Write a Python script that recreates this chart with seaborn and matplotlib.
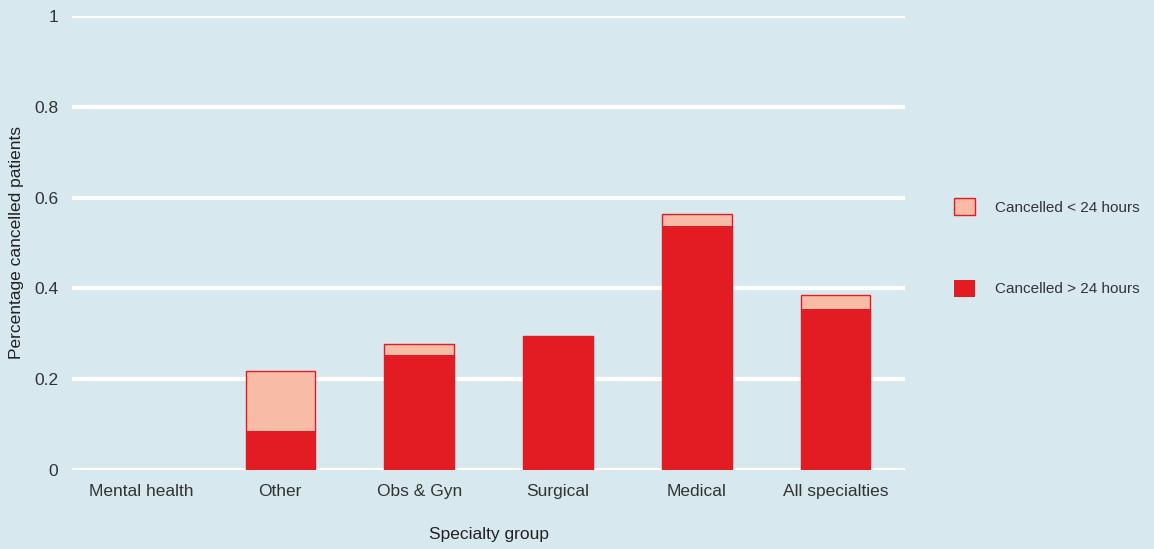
import matplotlib.pyplot as plt
import pandas as pd
import seaborn as sns

# specialty groups and cancellation shares
groups = ['Mental health', 'Other', 'Obs & Gyn', 'Surgical', 'Medical', 'All specialties']
over_24 = [0.0, 0.085, 0.253, 0.295, 0.537, 0.355]
under_24 = [0.0, 0.133, 0.025, 0.0, 0.027, 0.030]

bg = '#d8e8ef'
red = '#e31b23'
pink = '#f7bba6'

df = pd.DataFrame({'group': groups, 'over': over_24, 'under': under_24})
df['total'] = df['over'] + df['under']

sns.set_style('white')
plt.rcParams['font.family'] = ['Liberation Sans', 'DejaVu Sans']

fig = plt.figure(figsize=(11.54, 5.49), dpi=100, facecolor=bg)
ax = fig.add_axes([0.0624, 0.144, 0.722, 0.827])
ax.set_facecolor(bg)

# light part = full stack, red part drawn on top
sns.barplot(data=df, x='group', y='total', order=groups, color=pink, saturation=1,
            width=0.5, edgecolor=red, linewidth=1, ax=ax, label='Cancelled < 24 hours', zorder=3)
sns.barplot(data=df, x='group', y='over', order=groups, color=red, saturation=1,
            width=0.5, linewidth=0, ax=ax, label='Cancelled > 24 hours', zorder=4)

ax.set_ylim(0, 1)
ax.set_xlim(-0.5, 5.5)
ax.set_yticks([0, 0.2, 0.4, 0.6, 0.8, 1])
ax.set_yticklabels(['0', '0.2', '0.4', '0.6', '0.8', '1'])
ax.yaxis.grid(True, color='white', linewidth=3)
ax.set_axisbelow(True)
for s in ax.spines.values():
    s.set_visible(False)
ax.tick_params(axis='both', length=0, labelsize=12.5, colors='#333333')
ax.tick_params(axis='y', pad=10)
ax.tick_params(axis='x', pad=10)
ax.set_xlabel('Specialty group', fontsize=12.5, color='#222222', labelpad=20)
ax.set_ylabel('Percentage cancelled patients', fontsize=12.5, color='#222222', labelpad=7)

ax.legend(loc='center left', bbox_to_anchor=(1.042, 0.49), frameon=False,
          handlelength=1.4, handleheight=1.4, labelspacing=4.2, handletextpad=1.3,
          fontsize=11, labelcolor='#333333')

# no outline on empty bars (after the legend, so its handle keeps the edge)
for p in ax.patches:
    if p.get_height() == 0:
        p.set_linewidth(0)

fig.savefig('out.png', dpi=100, facecolor=bg)
